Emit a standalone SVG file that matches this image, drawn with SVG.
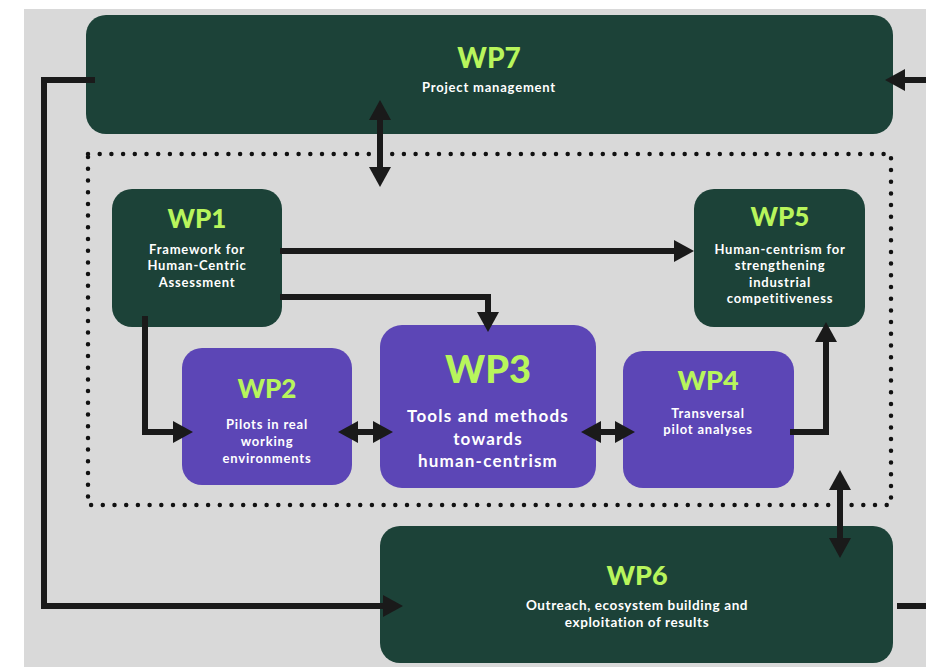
<svg xmlns="http://www.w3.org/2000/svg" width="926" height="667" viewBox="0 0 926 667">
<style>
.bg{fill:#d9d9d9}
.dk{fill:#1c4238}
.pu{fill:#5c46b6}
.t{font-family:Lato,"Open Sans","Liberation Sans",sans-serif;font-weight:900;fill:#b8f55c;text-anchor:middle}
.s{font-family:Lato,"Open Sans","Liberation Sans",sans-serif;font-weight:700;fill:#ffffff;text-anchor:middle;letter-spacing:0.8px}
.c{fill:none;stroke:#1a1a1a;stroke-width:6;stroke-linejoin:miter}
.dot{fill:none;stroke:#111;stroke-width:4.5;stroke-linecap:round;stroke-dasharray:0 11.7}
</style>
<defs>
<marker id="ah" markerUnits="userSpaceOnUse" viewBox="0 0 20 22" refX="10" refY="11" markerWidth="20" markerHeight="22" orient="auto-start-reverse">
<path d="M0,0 L20,11 L0,22 z" fill="#1a1a1a"/>
</marker>
</defs>
<rect x="0" y="0" width="926" height="667" fill="#ffffff"/>
<rect class="bg" x="24" y="9" width="902" height="658"/>
<rect class="dot" x="88" y="154" width="803" height="351"/>

<g id="wp7">
<rect class="dk" x="86" y="15" width="807" height="119" rx="20"/>
<text class="t" x="489" y="68" font-size="28">WP7</text>
<text class="s" x="489" y="92" font-size="13">Project management</text>
</g>
<g id="wp1">
<rect class="dk" x="112" y="189" width="170" height="138" rx="20"/>
<text class="t" x="197" y="228" font-size="26">WP1</text>
<text class="s" x="197" y="254" font-size="13">Framework for</text>
<text class="s" x="197" y="270" font-size="13">Human-Centric</text>
<text class="s" x="197" y="287" font-size="13">Assessment</text>
</g>
<g id="wp5">
<rect class="dk" x="694" y="189" width="171" height="138" rx="20"/>
<text class="t" x="780" y="226" font-size="26">WP5</text>
<text class="s" x="780" y="254" font-size="13">Human-centrism for</text>
<text class="s" x="780" y="270" font-size="13">strengthening</text>
<text class="s" x="780" y="287" font-size="13">industrial</text>
<text class="s" x="780" y="303" font-size="13">competitiveness</text>
</g>
<g id="wp2">
<rect class="pu" x="182" y="348" width="170" height="137" rx="20"/>
<text class="t" x="267" y="398" font-size="26">WP2</text>
<text class="s" x="267" y="429" font-size="13">Pilots in real</text>
<text class="s" x="267" y="446" font-size="13">working</text>
<text class="s" x="267" y="463" font-size="13">environments</text>
</g>
<g id="wp3">
<rect class="pu" x="380" y="325" width="216" height="163" rx="22"/>
<text class="t" x="488" y="383" font-size="38">WP3</text>
<text class="s" x="488" y="422" font-size="17" style="letter-spacing:1.2px">Tools and methods</text>
<text class="s" x="488" y="445" font-size="17" style="letter-spacing:1.2px">towards</text>
<text class="s" x="488" y="467" font-size="17" style="letter-spacing:1.2px">human-centrism</text>
</g>
<g id="wp4">
<rect class="pu" x="623" y="351" width="171" height="137" rx="20"/>
<text class="t" x="708" y="390" font-size="27">WP4</text>
<text class="s" x="708" y="418" font-size="13">Transversal</text>
<text class="s" x="708" y="434" font-size="13">pilot analyses</text>
</g>
<g id="wp6">
<rect class="dk" x="380" y="526" width="513" height="137" rx="20"/>
<text class="t" x="637" y="585" font-size="27">WP6</text>
<text class="s" x="637" y="610" font-size="13.5" style="letter-spacing:0.6px">Outreach, ecosystem building and</text>
<text class="s" x="637" y="627" font-size="13.5" style="letter-spacing:0.6px">exploitation of results</text>
</g>

<g id="connectors">
<path class="c" d="M95,80 H44 V606 H393" marker-end="url(#ah)"/>
<path class="c" d="M926,80 H895" marker-end="url(#ah)"/>
<path class="c" d="M897,606 H926"/>
<path class="c" d="M380,110 V177" marker-start="url(#ah)" marker-end="url(#ah)"/>
<path class="c" d="M840,480 V548" marker-start="url(#ah)" marker-end="url(#ah)"/>
<path class="c" d="M280,251 H684" marker-end="url(#ah)"/>
<path class="c" d="M280,297 H488 V322" marker-end="url(#ah)"/>
<path class="c" d="M145,316 V432 H183" marker-end="url(#ah)"/>
<path class="c" d="M348,432 H383" marker-start="url(#ah)" marker-end="url(#ah)"/>
<path class="c" d="M591,432 H625" marker-start="url(#ah)" marker-end="url(#ah)"/>
<path class="c" d="M790,432 H826 V332" marker-end="url(#ah)"/>
</g>
</svg>
